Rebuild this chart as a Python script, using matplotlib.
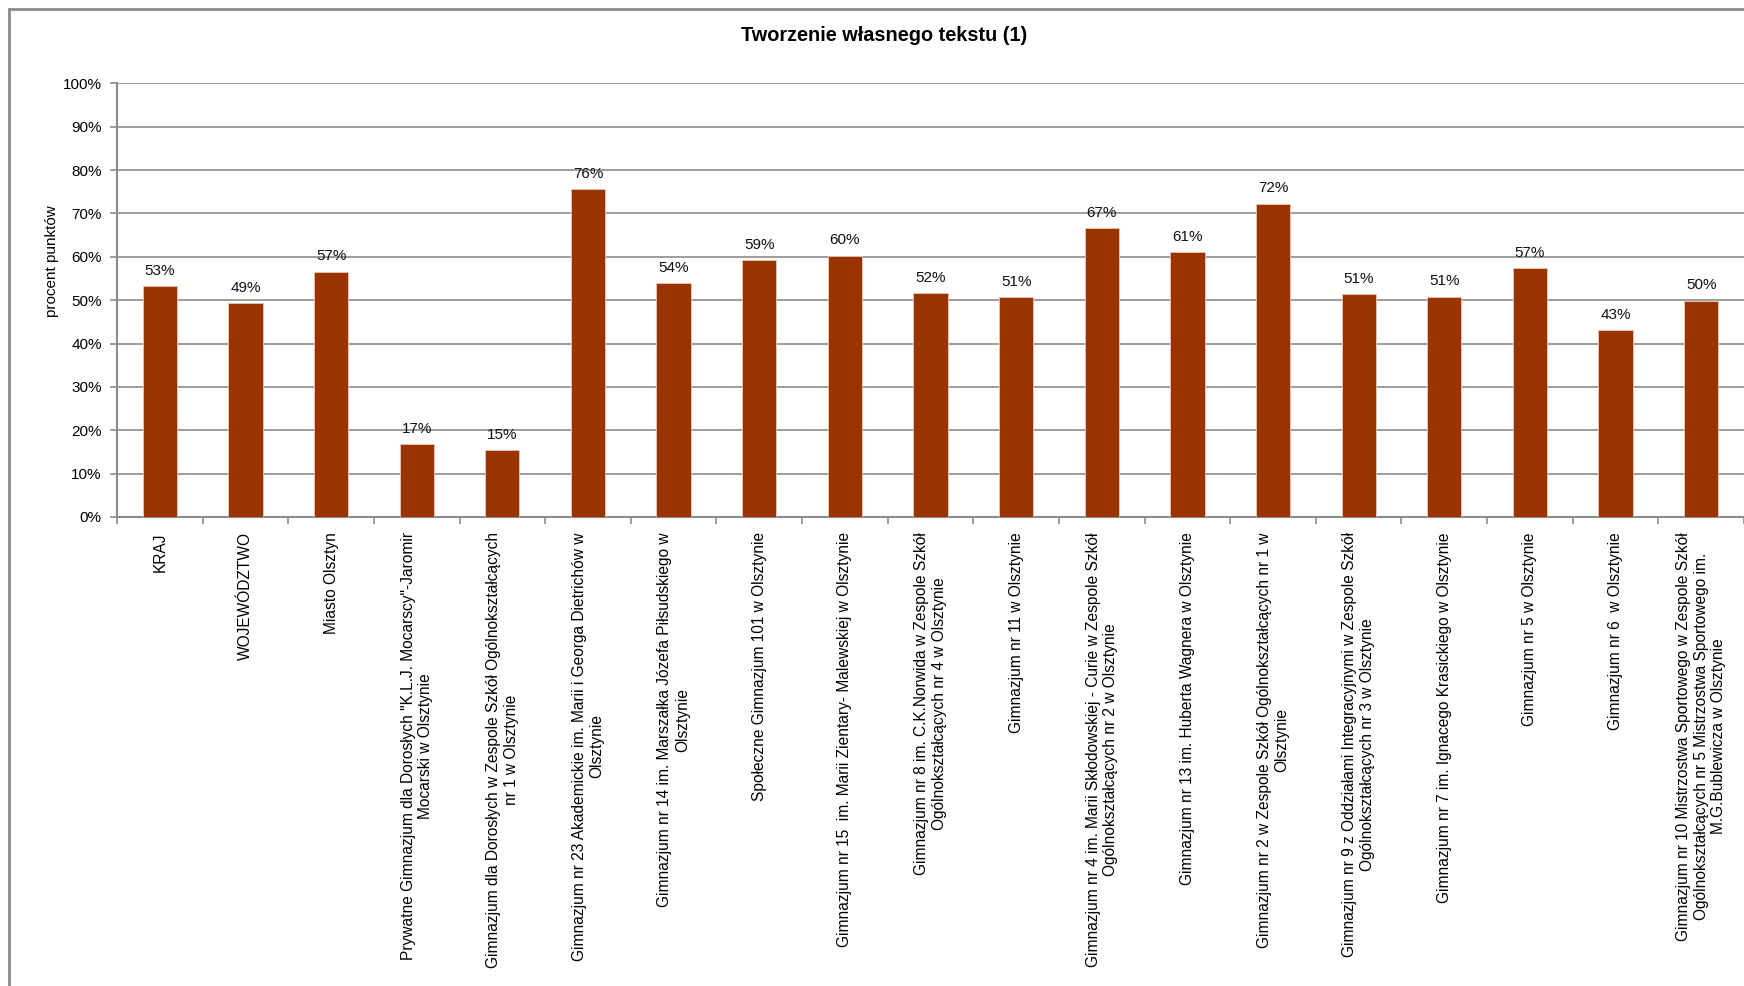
import matplotlib.pyplot as plt
from matplotlib.patches import Rectangle
from matplotlib.ticker import FixedLocator, PercentFormatter
import numpy as np

plt.rcParams['font.family'] = ['Liberation Sans', 'DejaVu Sans']

# dane
categories = [
    "KRAJ",
    "WOJEWÓDZTWO",
    "Miasto Olsztyn",
    "Prywatne Gimnazjum dla Dorosłych \"K.L.J. Mocarscy\"-Jaromir\nMocarski w Olsztynie",
    "Gimnazjum dla Dorosłych w Zespole Szkół Ogólnokształcących\nnr 1 w Olsztynie",
    "Gimnazjum nr 23 Akademickie im. Marii i Georga Dietrichów w\nOlsztynie",
    "Gimnazjum nr 14 im. Marszałka Józefa Piłsudskiego w\nOlsztynie",
    "Społeczne Gimnazjum 101 w Olsztynie",
    "Gimnazjum nr 15  im. Marii Zientary- Malewskiej w Olsztynie",
    "Gimnazjum nr 8 im. C.K.Norwida w Zespole Szkół\nOgólnokształcących nr 4 w Olsztynie",
    "Gimnazjum nr 11 w Olsztynie",
    "Gimnazjum nr 4 im. Marii Skłodowskiej - Curie w Zespole Szkół\nOgólnokształcących nr 2 w Olsztynie",
    "Gimnazjum nr 13 im. Huberta Wagnera w Olsztynie",
    "Gimnazjum nr 2 w Zespole Szkół Ogólnokształcących nr 1 w\nOlsztynie",
    "Gimnazjum nr 9 z Oddziałami Integracyjnymi w Zespole Szkół\nOgólnokształcących nr 3 w Olsztynie",
    "Gimnazjum nr 7 im. Ignacego Krasickiego w Olsztynie",
    "Gimnazjum nr 5 w Olsztynie",
    "Gimnazjum nr 6  w Olsztynie",
    "Gimnazjum nr 10 Mistrzostwa Sportowego w Zespole Szkół\nOgólnokształcących nr 5 Mistrzostwa Sportowego im.\nM.G.Bublewicza w Olsztynie",
]
values = [0.533, 0.493, 0.566, 0.168, 0.154, 0.756, 0.539, 0.593, 0.603, 0.516,
          0.507, 0.666, 0.610, 0.723, 0.514, 0.508, 0.574, 0.431, 0.499]
y_ticks = [0, 0.1, 0.2, 0.3, 0.4, 0.5, 0.6, 0.7, 0.8, 0.9, 1.0]

title = "Tworzenie własnego tekstu (1)"
y_label = "procent punktów"
bar_color = "#993300"
grid_color = "#8c8c8c"

fig = plt.figure(figsize=(17.44, 9.86), dpi=100)
ax = fig.add_axes([0.0671, 0.4757, 0.9329, 0.4397])

x = np.arange(len(categories))
bars = ax.bar(x, values, width=0.4, color=bar_color, edgecolor="#e8c8b8",
              linewidth=0.6, zorder=3)

for b, v in zip(bars, values):
    ax.annotate(f"{v:.0%}", (b.get_x() + b.get_width() / 2, v),
                xytext=(0, 6), textcoords="offset points",
                ha="center", va="bottom", fontsize=11, color="#111111")

ax.set_xlim(-0.5, len(categories) - 0.5)
ax.set_ylim(0, 1.0)
ax.set_yticks(y_ticks)
ax.yaxis.set_major_formatter(PercentFormatter(1.0, decimals=0))
ax.grid(axis="y", color=grid_color, linewidth=1.2, zorder=0)

ax.set_xticks(x)
ax.set_xticklabels(categories, rotation=90, ha="center", va="top",
                   multialignment="center", fontsize=11.2)
ax.xaxis.set_minor_locator(FixedLocator(np.arange(-0.5, len(categories), 1.0)))
ax.tick_params(axis="x", which="major", length=0, pad=11)
ax.tick_params(axis="x", which="minor", length=5, color=grid_color, width=1.2)
ax.tick_params(axis="y", length=5, color=grid_color, width=1.2, labelsize=11, pad=6)

for s in ["top", "right"]:
    ax.spines[s].set_visible(False)
for s in ["left", "bottom"]:
    ax.spines[s].set_color(grid_color)
    ax.spines[s].set_linewidth(1.5)

fig.text(0.507, 0.9645, title, ha="center", va="center",
         fontsize=14.3, fontweight="bold")
fig.text(0.030, 0.735, y_label, ha="center", va="center",
         rotation=90, fontsize=11)

# ramka wykresu (przycięta z prawej i od dołu)
fig.patches.append(Rectangle((9 / 1744, -0.1), 1.2, 0.1 + (986 - 9) / 986,
                             transform=fig.transFigure, fill=False,
                             edgecolor="#8a8a8a", linewidth=2, clip_on=False))

fig.savefig("out.png", dpi=100)
